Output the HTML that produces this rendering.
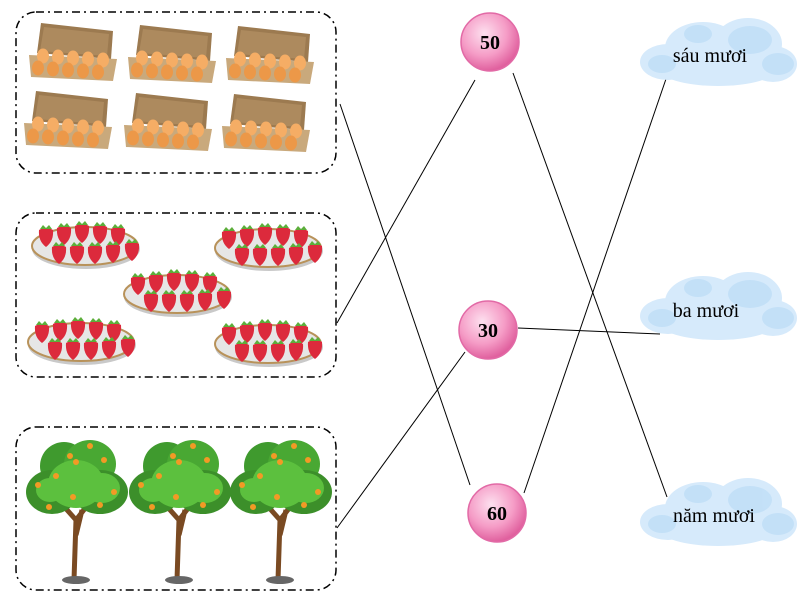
<!DOCTYPE html>
<html><head><meta charset="utf-8"><style>
html,body{margin:0;padding:0;background:#fff;width:804px;height:600px;overflow:hidden}
svg{display:block}
text{font-family:"Liberation Serif",serif}
</style></head><body>
<svg width="804" height="600" viewBox="0 0 804 600" xmlns="http://www.w3.org/2000/svg">
<defs>
<g id="carton">
  <polygon points="16,0 88,8 86,36 12,30" fill="#9c7a50"/>
  <polygon points="19,4 84,11 82,33 15,28" fill="#ad8a5e"/>
  <polygon points="4,32 92,36 88,58 6,54" fill="#c9a97c"/>
  <g fill="#f5ad65">
    <ellipse cx="18" cy="33" rx="6" ry="7.5"/><ellipse cx="33" cy="34" rx="6" ry="7.5"/><ellipse cx="48" cy="35" rx="6" ry="7.5"/><ellipse cx="63" cy="36" rx="6" ry="7.5"/><ellipse cx="78" cy="37" rx="6" ry="7.5"/>
  </g>
  <g fill="#ec9848">
    <ellipse cx="13" cy="45" rx="6" ry="7.5"/><ellipse cx="28" cy="46" rx="6" ry="7.5"/><ellipse cx="43" cy="47" rx="6" ry="7.5"/><ellipse cx="58" cy="48" rx="6" ry="7.5"/><ellipse cx="73" cy="49" rx="6" ry="7.5"/>
  </g>
</g>
<g id="berry">
  <path d="M-7,-4 Q0,-8 7,-4 Q8,7 0,13 Q-8,7 -7,-4Z" fill="#dc2a3c"/>
  <path d="M-6,-5 L-3,-9 L0,-6 L3,-9 L6,-5Z" fill="#5cae3a"/>
</g>
<g id="plate">
  <ellipse cx="54" cy="27" rx="54" ry="20" fill="#c9c9c9"/>
  <ellipse cx="53" cy="24" rx="53" ry="19" fill="#e6e6e6" stroke="#b8925a" stroke-width="2"/>
  <use href="#berry" x="14" y="12"/><use href="#berry" x="32" y="10"/><use href="#berry" x="50" y="8"/><use href="#berry" x="68" y="9"/><use href="#berry" x="86" y="11"/>
  <use href="#berry" x="27" y="29"/><use href="#berry" x="45" y="29"/><use href="#berry" x="63" y="29"/><use href="#berry" x="81" y="28"/><use href="#berry" x="100" y="26"/>
</g>
<g id="tree">
  <path d="M44,140 L46,80 L30,62 M46,80 L60,62 M46,95 L52,70" stroke="#7a4a22" stroke-width="5" fill="none"/>
  <ellipse cx="46" cy="140" rx="14" ry="4" fill="#666"/>
  <ellipse cx="34" cy="26" rx="24" ry="24" fill="#3f9a2e"/>
  <ellipse cx="60" cy="24" rx="26" ry="24" fill="#49a833"/>
  <ellipse cx="22" cy="52" rx="26" ry="22" fill="#3c8f2a"/>
  <ellipse cx="70" cy="52" rx="28" ry="22" fill="#3c8f2a"/>
  <ellipse cx="46" cy="44" rx="28" ry="24" fill="#5cc03e"/>
  <ellipse cx="72" cy="48" rx="18" ry="15" fill="#5cc03e"/>
  <ellipse cx="20" cy="50" rx="14" ry="12" fill="#5cc03e"/>
  <g fill="#f29a25">
    <circle cx="60" cy="6" r="3"/><circle cx="40" cy="16" r="3"/><circle cx="46" cy="22" r="3"/><circle cx="74" cy="20" r="3"/><circle cx="26" cy="36" r="3"/><circle cx="8" cy="45" r="3"/><circle cx="84" cy="52" r="3"/><circle cx="43" cy="57" r="3"/><circle cx="19" cy="67" r="3"/><circle cx="70" cy="65" r="3"/>
  </g>
</g>
<radialGradient id="bub" cx="40%" cy="35%" r="65%">
  <stop offset="0" stop-color="#fde0ef"/><stop offset="0.6" stop-color="#f59cc6"/><stop offset="1" stop-color="#e0609e"/>
</radialGradient>
<g id="cloud">
  <g fill="#d6eafb">
    <ellipse cx="30" cy="48" rx="28" ry="18"/><ellipse cx="65" cy="34" rx="38" ry="26"/><ellipse cx="110" cy="30" rx="34" ry="26"/><ellipse cx="135" cy="50" rx="24" ry="18"/><ellipse cx="80" cy="54" rx="60" ry="18"/>
  </g>
  <g fill="#b7daf6" opacity="0.6">
    <ellipse cx="112" cy="26" rx="22" ry="14"/><ellipse cx="140" cy="50" rx="16" ry="11"/><ellipse cx="24" cy="50" rx="14" ry="9"/><ellipse cx="60" cy="20" rx="14" ry="9"/>
  </g>
</g>
</defs>

<g fill="none" stroke="#000" stroke-width="1.5" stroke-dasharray="8,4,2,4">
<rect x="16" y="12" width="320" height="161" rx="20"/>
<rect x="16" y="213" width="320" height="164" rx="20"/>
<rect x="16" y="427" width="320" height="163" rx="20"/>
</g>

<use href="#carton" x="25" y="23"/><use href="#carton" x="124" y="25"/><use href="#carton" x="222" y="26"/>
<use href="#carton" x="20" y="91"/><use href="#carton" x="120" y="93"/><use href="#carton" x="218" y="94"/>

<use href="#plate" x="32" y="222"/><use href="#plate" x="215" y="224"/><use href="#plate" x="124" y="270"/>
<use href="#plate" x="28" y="318"/><use href="#plate" x="215" y="320"/>

<use href="#tree" x="30" y="440"/><use href="#tree" x="133" y="440"/><use href="#tree" x="234" y="440"/>

<g stroke="#000" stroke-width="1">
<line x1="340" y1="104" x2="470" y2="485"/>
<line x1="337" y1="323" x2="475" y2="80"/>
<line x1="337" y1="528" x2="465" y2="352"/>
<line x1="513" y1="73" x2="667" y2="497"/>
<line x1="518" y1="328" x2="660" y2="334"/>
<line x1="524" y1="493" x2="667" y2="76"/>
</g>

<use href="#cloud" x="638" y="14"/><use href="#cloud" x="638" y="268"/><use href="#cloud" x="638" y="474"/>

<g stroke="#e26aa6" stroke-width="1.5" fill="url(#bub)">
<circle cx="490" cy="42" r="29"/><circle cx="488" cy="330" r="29"/><circle cx="497" cy="513" r="29"/>
</g>
<g font-size="20" font-weight="bold" text-anchor="middle">
<text x="490" y="49">50</text><text x="488" y="337">30</text><text x="497" y="520">60</text>
</g>
<g font-size="20" text-anchor="middle">
<text x="710" y="62">sáu mươi</text><text x="706" y="317">ba mươi</text><text x="714" y="522">năm mươi</text>
</g>
</svg>
</body></html>
